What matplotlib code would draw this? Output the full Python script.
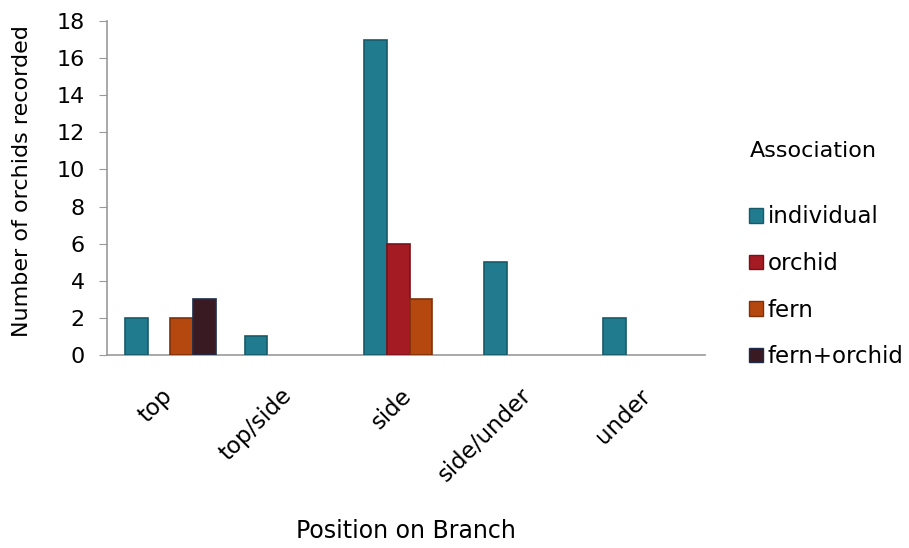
import numpy as np
import matplotlib.pyplot as plt
import matplotlib.transforms as mtransforms
from matplotlib.patches import Patch

plt.rcParams['font.family'] = ['DejaVu Sans']

positions = ['top', 'top/side', 'side', 'side/under', 'under']
series = ['individual', 'orchid', 'fern', 'fern+orchid']
individual = [2, 1, 17, 5, 2]
orchid = [0, 0, 6, 0, 0]
fern = [2, 0, 3, 0, 0]
fern_orchid = [3, 0, 0, 0, 0]

colors = ['#217b8f', '#a51b24', '#b5480f', '#3a1a22']
edges = ['#175b6a', '#7a1018', '#7f310a', '#1f2d4d']

fig = plt.figure(figsize=(9.09, 5.48), dpi=100)
ax = fig.add_axes([0.1177, 0.3522, 0.658, 0.6095])

x = np.arange(len(positions))
w = 0.19
data = [individual, orchid, fern, fern_orchid]
for i, vals in enumerate(data):
    xs = x - 1.5 * w + i * w + 0.03
    vals = np.array(vals, dtype=float)
    mask = vals > 0
    ax.bar(xs[mask], vals[mask], width=w, color=colors[i], edgecolor=edges[i],
           linewidth=1.2, zorder=3)

ax.set_xlim(-0.5, 4.5)
ax.set_ylim(0, 18)
ax.set_yticks(range(0, 19, 2))
ax.set_xticks(x)
ax.set_xticklabels(positions, rotation=45, ha='right', rotation_mode='anchor', fontsize=16.5)
ax.tick_params(axis='x', length=0, pad=21)
ax.tick_params(axis='y', length=6, color='#999999', labelsize=16, pad=10)
# nudge rotated labels a little to the left
shift = mtransforms.ScaledTranslation(-6 / 100, 0, fig.dpi_scale_trans)
for lbl in ax.get_xticklabels():
    lbl.set_transform(lbl.get_transform() + shift)
for s in ['top', 'right']:
    ax.spines[s].set_visible(False)
for s in ['left', 'bottom']:
    ax.spines[s].set_color('#999999')
    ax.spines[s].set_linewidth(1.2)

ax.set_ylabel('Number of orchids recorded', fontsize=16)
ax.yaxis.set_label_coords(-0.125, 0.52)
ax.set_xlabel('Position on Branch', fontsize=17)
ax.xaxis.set_label_coords(0.5, -0.49)

handles = [Patch(facecolor=c, edgecolor=e, label=s) for c, e, s in zip(colors, edges, series)]
leg = ax.legend(handles=handles, title='Association', loc='upper left',
                bbox_to_anchor=(1.055, 0.675), frameon=False, fontsize=16.5, title_fontsize=16,
                handlelength=0.6, handleheight=0.6, handletextpad=0.2, labelspacing=1.03,
                borderpad=0)
leg._legend_box.align = 'left'
leg._legend_box.sep = 32

fig.savefig('out.png', dpi=100)
